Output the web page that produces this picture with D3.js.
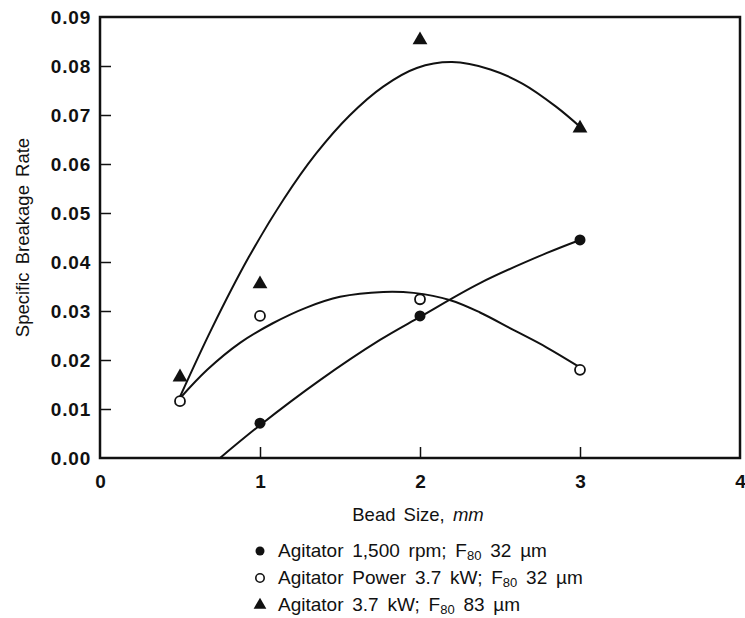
<!DOCTYPE html>
<html>
<head>
<meta charset="utf-8">
<script src="https://cdn.jsdelivr.net/npm/d3@7"></script>
<style>
  html, body { margin: 0; padding: 0; background: #fff; }
  svg text { font-family: "Liberation Sans", Arial, Helvetica, sans-serif; fill: #111; }
</style>
</head>
<body>
<svg id="chart" width="745" height="618"></svg>
<script>
// Measured points: bead size (mm) vs specific breakage rate
const beadSize = [0.5, 1, 2, 3];
const rpm1500 = [null, 0.0071, 0.029, 0.0445];          // Agitator 1,500 rpm; F80 32 µm
const power37 = [0.0116, 0.029, 0.0324, 0.018];          // Agitator Power 3.7 kW; F80 32 µm
const power37Coarse = [0.0165, 0.0355, 0.0853, 0.0673];  // Agitator 3.7 kW; F80 83 µm

// Fitted trend curves (bead size, rate)
const fitRpmX = [0.75, 1, 1.375, 1.75, 2, 2.375, 2.79, 3];
const fitRpmY = [0, 0.0067, 0.0159, 0.0241, 0.0288, 0.0357, 0.0418, 0.0445];
const fitPowerX = [0.5, 0.67, 0.875, 1.08, 1.29, 1.5, 1.77, 1.96, 2.19, 2.375, 2.58, 2.79, 3];
const fitPowerY = [0.0122, 0.018, 0.0235, 0.0275, 0.0307, 0.0329, 0.0339, 0.0337, 0.0322, 0.0297, 0.0262, 0.0226, 0.0185];
const fitCoarseX = [0.5, 0.7, 0.93, 1.15, 1.35, 1.56, 1.77, 1.98, 2.2, 2.44, 2.64, 2.85, 3];
const fitCoarseY = [0.0125, 0.0265, 0.041, 0.0529, 0.0621, 0.0699, 0.0758, 0.0796, 0.0808, 0.0793, 0.0764, 0.0717, 0.0676];

const xTicks = [0, 1, 2, 3, 4];
const yTicks = [0, 0.01, 0.02, 0.03, 0.04, 0.05, 0.06, 0.07, 0.08, 0.09];

const legendLabels = [
  {sym: "filled", text: "Agitator 1,500 rpm; F", sub: "80", tail: " 32 µm"},
  {sym: "open", text: "Agitator Power 3.7 kW; F", sub: "80", tail: " 32 µm"},
  {sym: "triangle", text: "Agitator 3.7 kW; F", sub: "80", tail: " 83 µm"}
];

const svg = d3.select("#chart");
const m = {left: 100, right: 740, top: 17, bottom: 458};

const x = d3.scaleLinear().domain([0, 4]).range([m.left, m.right]);
const y = d3.scaleLinear().domain([0, 0.09]).range([m.bottom, m.top]);

// Axes with inward ticks
const tickLen = 11;
svg.append("g")
  .attr("transform", `translate(0,${m.bottom})`)
  .call(d3.axisBottom(x).tickValues(xTicks).tickSize(-tickLen).tickPadding(tickLen + 6).tickFormat(d3.format("d")))
  .call(g => g.select(".domain").remove())
  .call(g => g.selectAll("line").attr("stroke", "#111").attr("stroke-width", 1.5)
        .filter(d => d === 0 || d === 4).remove())
  .call(g => g.selectAll("text").attr("font-size", 19).attr("font-weight", "bold"));

svg.append("g")
  .attr("transform", `translate(${m.left},0)`)
  .call(d3.axisLeft(y).tickValues(yTicks).tickSize(-tickLen).tickPadding(9).tickFormat(d3.format(".2f")))
  .call(g => g.select(".domain").remove())
  .call(g => g.selectAll("line").attr("stroke", "#111").attr("stroke-width", 1.5)
        .filter(d => d === 0 || d === 0.09).remove())
  .call(g => g.selectAll("text").attr("font-size", 19).attr("font-weight", "bold")
        .attr("letter-spacing", 0.8));

// Frame
svg.append("rect")
  .attr("x", m.left).attr("y", m.top)
  .attr("width", m.right - m.left).attr("height", m.bottom - m.top)
  .attr("fill", "none").attr("stroke", "#111").attr("stroke-width", 2.5);

// Axis titles
svg.append("text")
  .attr("x", 418).attr("y", 521)
  .attr("text-anchor", "middle").attr("font-size", 18.5).attr("word-spacing", 3)
  .html('Bead Size, <tspan font-style="italic">mm</tspan>');

svg.append("text")
  .attr("transform", `translate(29,${(m.top + m.bottom) / 2})rotate(-90)`)
  .attr("text-anchor", "middle").attr("font-size", 18.5).attr("word-spacing", 3)
  .text("Specific Breakage Rate");

// Trend curves
const line = d3.line().x(d => x(d[0])).y(d => y(d[1])).curve(d3.curveCatmullRom.alpha(0.5));
const curves = [
  d3.zip(fitRpmX, fitRpmY),
  d3.zip(fitPowerX, fitPowerY),
  d3.zip(fitCoarseX, fitCoarseY)
];
svg.append("g").selectAll("path").data(curves).join("path")
  .attr("d", line).attr("fill", "none").attr("stroke", "#111").attr("stroke-width", 2);

// Markers
const tri = d3.symbol().type(d3.symbolTriangle).size(95);
const triSmall = d3.symbol().type(d3.symbolTriangle).size(70);

svg.append("g").selectAll("circle")
  .data(d3.zip(beadSize, rpm1500).filter(d => d[1] !== null)).join("circle")
  .attr("cx", d => x(d[0])).attr("cy", d => y(d[1])).attr("r", 5.5)
  .attr("fill", "#111");

svg.append("g").selectAll("circle")
  .data(d3.zip(beadSize, power37)).join("circle")
  .attr("cx", d => x(d[0])).attr("cy", d => y(d[1])).attr("r", 5)
  .attr("fill", "#fff").attr("stroke", "#111").attr("stroke-width", 1.8);

svg.append("g").selectAll("path")
  .data(d3.zip(beadSize, power37Coarse)).join("path")
  .attr("d", tri)
  .attr("transform", d => `translate(${x(d[0])},${y(d[1])})`)
  .attr("fill", "#111");

// Legend
const lg = svg.append("g").attr("transform", "translate(260,551)");
legendLabels.forEach((d, i) => {
  const row = lg.append("g").attr("transform", `translate(0,${i * 27})`);
  if (d.sym === "filled") {
    row.append("circle").attr("r", 4.5).attr("fill", "#111");
  } else if (d.sym === "open") {
    row.append("circle").attr("r", 4.2).attr("fill", "#fff").attr("stroke", "#111").attr("stroke-width", 1.6);
  } else {
    row.append("path").attr("d", triSmall).attr("fill", "#111");
  }
  const t = row.append("text").attr("x", 18).attr("y", 5.5)
    .attr("font-size", 19).attr("word-spacing", 3.5);
  t.append("tspan").text(d.text);
  t.append("tspan").attr("font-size", 13).attr("dy", 3).text(d.sub);
  t.append("tspan").attr("dy", -3).text(d.tail);
});
</script>
</body>
</html>
